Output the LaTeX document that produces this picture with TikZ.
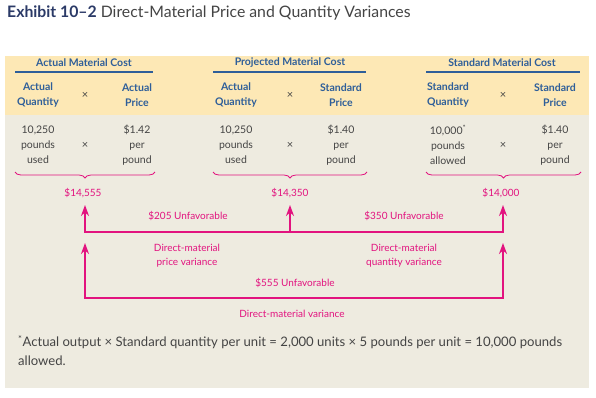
\documentclass[tikz,border=0pt]{standalone}
\usepackage{fontspec}
\setmainfont{Lato}
\usepackage{tikz}
\usetikzlibrary{calc}
\usetikzlibrary{arrows.meta}
\usetikzlibrary{decorations.pathreplacing}
\definecolor{exnavy}{HTML}{2B3A67}
\definecolor{exblue}{HTML}{2E5E99}
\definecolor{exgray}{HTML}{444444}
\definecolor{exmag}{HTML}{E2137F}
\definecolor{exyellow}{HTML}{FDE8B5}
\definecolor{exbeige}{HTML}{EEEBE0}

\begin{document}
\begin{tikzpicture}[x=1pt, y=-1pt,
  head/.style={font=\fontsize{10.5}{12}\selectfont\bfseries, text=exblue, inner sep=0pt},
  sub/.style={font=\fontsize{10.5}{15}\selectfont\bfseries, text=exblue, align=center, inner sep=0pt},
  cell/.style={font=\fontsize{10.5}{15}\selectfont, text=exgray, align=center, inner sep=0pt},
  times/.style={font=\fontsize{11}{12}\selectfont, text=exgray, inner sep=0pt},
  var/.style={font=\fontsize{10}{14}\selectfont, text=exmag, align=center, inner sep=0pt},
  arr/.style={exmag, line width=2pt, -{Stealth[length=11pt,width=8pt]}},
  ln/.style={exmag, line width=2pt, line cap=rect},
  brc/.style={exmag, line width=0.8pt, decorate, decoration={brace, mirror, amplitude=6pt}},
  rule/.style={exblue, line width=1.6pt}]
  \useasboundingbox (0,0) rectangle (596,397);

  % panels
  \fill[exyellow] (5,56) rectangle (589,115);
  \fill[exbeige] (5,115) rectangle (589,388);

  \node[anchor=west, inner sep=0pt, font=\fontsize{15.8}{17}\selectfont] (title) at (7,13)
    {\textcolor{exnavy}{\bfseries Exhibit 10–2} \textcolor{exgray}{Direct-Material Price and Quantity Variances}};

  % actual material cost
  \node[head] (ha) at (84,63) {Actual Material Cost};
  \draw[rule] (15,72) -- (153,72);
  \node[sub] (ha-q) at (38,95) {Actual\\Quantity};
  \node[times] (ha-x) at (85,95) {×};
  \node[sub] (ha-p) at (137,95) {Actual\\Price};
  \node[cell] (ca-q) at (38,145) {10,250\\pounds\\used};
  \node[times] (ca-x) at (85,145) {×};
  \node[cell] (ca-p) at (137,145) {\$1.42\\per\\pound};
  \draw[brc] (15,172) -- (155,172);
  \node[var] (tot-a) at (83,193) {\$14,555};

  % projected material cost
  \node[head] (hp) at (290,63) {Projected Material Cost};
  \draw[rule] (213,72) -- (366,72);
  \node[sub] (hp-q) at (236,95) {Actual\\Quantity};
  \node[times] (hp-x) at (290,95) {×};
  \node[sub] (hp-p) at (341,95) {Standard\\Price};
  \node[cell] (cp-q) at (236,145) {10,250\\pounds\\used};
  \node[times] (cp-x) at (290,145) {×};
  \node[cell] (cp-p) at (341,145) {\$1.40\\per\\pound};
  \draw[brc] (213,172) -- (367,172);
  \node[var] (tot-p) at (290,193) {\$14,350};

  % standard material cost
  \node[head] (hs) at (502,63) {Standard Material Cost};
  \draw[rule] (426,72) -- (580,72);
  \node[sub] (hs-q) at (448,95) {Standard\\Quantity};
  \node[times] (hs-x) at (503,95) {×};
  \node[sub] (hs-p) at (555,95) {Standard\\Price};
  \node[cell] (cs-q) at (448,145) {10,000\textsuperscript{*}\\pounds\\allowed};
  \node[times] (cs-x) at (503,145) {×};
  \node[cell] (cs-p) at (555,145) {\$1.40\\per\\pound};
  \draw[brc] (426,172) -- (581,172);
  \node[var] (tot-s) at (501,193) {\$14,000};

  % variances
  \coordinate (a1) at (85,232);
  \coordinate (p1) at (290,232);
  \coordinate (s1) at (503,232);
  \coordinate (a1t) at (85,205);
  \coordinate (p1t) at (290,205);
  \coordinate (s1t) at (503,205);
  \draw[ln] (a1) -- (s1);
  \draw[arr] (a1) -- (a1t);
  \draw[arr] (p1) -- (p1t);
  \draw[arr] (s1) -- (s1t);
  \node[var] (pv-u) at (188,216) {\$205 Unfavorable};
  \node[var] (qv-u) at (404,216) {\$350 Unfavorable};
  \node[var] (pv) at (187,256) {Direct-material\\price variance};
  \node[var] (qv) at (404,256) {Direct-material\\quantity variance};

  \coordinate (a2) at (85,298);
  \coordinate (s2) at (503,298);
  \coordinate (a2t) at (85,243);
  \coordinate (s2t) at (503,243);
  \draw[ln] (a2) -- (s2);
  \draw[arr] (a2) -- (a2t);
  \draw[arr] (s2) -- (s2t);
  \node[var] (tv-u) at (295,283) {\$555 Unfavorable};
  \node[var] (tv) at (292,314) {Direct-material variance};

  \node[anchor=north west, align=left, inner sep=0pt, text=exgray, font=\fontsize{13.1}{19}\selectfont] (note) at (18,335)
    {\textsuperscript{*}Actual output × Standard quantity per unit = 2,000 units × 5 pounds per unit = 10,000 pounds\\allowed.};
\end{tikzpicture}
\end{document}
